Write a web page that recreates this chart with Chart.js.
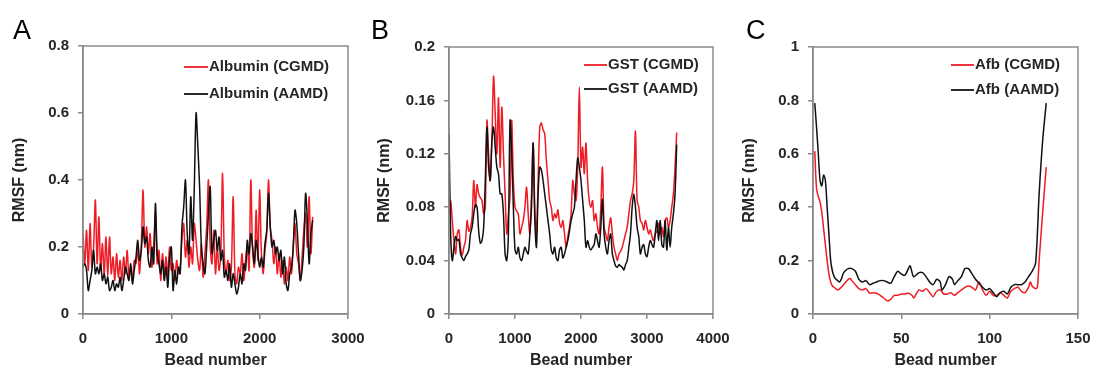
<!DOCTYPE html>
<html>
<head>
<meta charset="utf-8">
<script src="https://cdn.jsdelivr.net/npm/chart.js@4/dist/chart.umd.min.js"></script>
<style>
  html,body{margin:0;padding:0;background:#fff;}
  #wrap{position:relative;width:1094px;height:373px;overflow:hidden;}
  .panel{position:absolute;top:0;height:373px;}
  canvas{display:block;}
  .letter{position:absolute;font-family:"Liberation Sans",Arial,sans-serif;font-size:27px;color:#000;}
</style>
</head>
<body>
<div id="wrap">
  <div class="panel" style="left:0;width:365px;"><canvas id="cA" width="365" height="373"></canvas></div>
  <div class="panel" style="left:365px;width:365px;"><canvas id="cB" width="365" height="373"></canvas></div>
  <div class="panel" style="left:730px;width:364px;"><canvas id="cC" width="364" height="373"></canvas></div>
  <div class="letter" style="left:13px;top:15px;">A</div>
  <div class="letter" style="left:371px;top:15px;">B</div>
  <div class="letter" style="left:746px;top:15px;">C</div>
</div>
<script>
// ---------- Panel A: Albumin ----------
const beadsA = [];
for (let b = 0; b <= 2600; b += 20) beadsA.push(b);
const albuminCGMD = [
0.24,0.15,0.25,0.13,0.27,0.14,0.20,0.34,0.15,0.29,0.13,0.21,0.12,0.23,0.11,0.23,0.12,0.17,0.10,0.18,
0.11,0.16,0.10,0.17,0.12,0.19,0.11,0.14,0.10,0.16,0.15,0.20,0.12,0.21,0.37,0.20,0.26,0.18,0.24,0.14,
0.20,0.30,0.15,0.19,0.10,0.18,0.12,0.17,0.11,0.20,0.13,0.15,0.10,0.16,0.12,0.14,0.22,0.27,0.17,0.22,
0.14,0.20,0.15,0.27,0.22,0.16,0.13,0.21,0.11,0.18,0.26,0.40,0.20,0.15,0.25,0.12,0.20,0.13,0.18,0.42,
0.17,0.12,0.16,0.10,0.14,0.35,0.12,0.09,0.14,0.12,0.18,0.10,0.16,0.20,0.13,0.40,0.19,0.14,0.31,0.16,
0.37,0.18,0.12,0.19,0.24,0.40,0.26,0.22,0.15,0.20,0.12,0.18,0.11,0.16,0.09,0.14,0.10,0.17,0.12,0.20,
0.27,0.18,0.15,0.10,0.17,0.25,0.30,0.20,0.35,0.18,0.29];
const albuminAAMD = [
0.14,0.15,0.13,0.07,0.10,0.13,0.19,0.12,0.14,0.12,0.15,0.10,0.12,0.09,0.11,0.07,0.08,0.10,0.07,0.09,
0.08,0.11,0.07,0.10,0.14,0.12,0.10,0.15,0.09,0.13,0.17,0.22,0.16,0.19,0.26,0.21,0.23,0.16,0.14,0.20,
0.15,0.33,0.18,0.15,0.12,0.16,0.10,0.14,0.08,0.17,0.20,0.07,0.13,0.09,0.14,0.12,0.26,0.32,0.40,0.24,
0.18,0.35,0.22,0.38,0.60,0.50,0.38,0.20,0.15,0.12,0.20,0.30,0.38,0.18,0.22,0.25,0.19,0.23,0.16,0.19,
0.11,0.13,0.10,0.15,0.08,0.12,0.09,0.06,0.08,0.12,0.09,0.15,0.13,0.22,0.18,0.24,0.20,0.15,0.22,0.18,
0.14,0.17,0.14,0.21,0.25,0.36,0.26,0.20,0.22,0.18,0.20,0.16,0.19,0.12,0.17,0.09,0.07,0.12,0.14,0.20,
0.31,0.27,0.18,0.10,0.13,0.20,0.36,0.28,0.15,0.24,0.28];
const ticksA = {min:0, max:3000, step:1000, ymin:0, ymax:0.8, ystep:0.2};

// ---------- Panel B: GST ----------
const beadsB = [];
for (let b = 0; b <= 3450; b += 25) beadsB.push(b);
const gstCGMD = [
0.075,0.085,0.07,0.055,0.045,0.06,0.063,0.05,0.044,0.05,0.055,0.07,0.062,0.065,0.072,0.1,0.08,0.097,0.09,0.087,
0.085,0.075,0.08,0.145,0.12,0.1,0.13,0.178,0.15,0.12,0.162,0.11,0.155,0.12,0.09,0.06,0.075,0.088,0.145,0.1,
0.08,0.077,0.075,0.06,0.065,0.07,0.08,0.095,0.075,0.06,0.09,0.128,0.08,0.06,0.1,0.14,0.143,0.138,0.135,0.115,
0.1,0.085,0.08,0.07,0.075,0.072,0.078,0.068,0.065,0.07,0.06,0.05,0.058,0.065,0.075,0.1,0.09,0.085,0.11,0.17,
0.11,0.125,0.105,0.128,0.1,0.085,0.08,0.085,0.07,0.075,0.065,0.06,0.08,0.11,0.065,0.06,0.055,0.065,0.072,0.06,
0.05,0.045,0.04,0.045,0.047,0.05,0.055,0.06,0.065,0.075,0.085,0.09,0.1,0.137,0.085,0.08,0.07,0.068,0.063,0.07,
0.065,0.06,0.063,0.058,0.055,0.06,0.062,0.068,0.06,0.065,0.058,0.07,0.072,0.065,0.07,0.08,0.09,0.11,0.136];
const gstAAMD = [
0.135,0.06,0.04,0.05,0.058,0.055,0.056,0.045,0.042,0.04,0.043,0.045,0.048,0.06,0.065,0.075,0.082,0.08,0.062,0.053,
0.055,0.065,0.1,0.14,0.11,0.1,0.13,0.14,0.125,0.11,0.105,0.09,0.09,0.075,0.045,0.04,0.06,0.145,0.12,0.08,
0.048,0.045,0.05,0.042,0.04,0.045,0.05,0.047,0.045,0.06,0.08,0.128,0.07,0.05,0.09,0.11,0.108,0.1,0.09,0.08,
0.07,0.06,0.048,0.045,0.05,0.042,0.04,0.048,0.05,0.042,0.045,0.05,0.055,0.062,0.07,0.075,0.08,0.1,0.117,0.11,
0.1,0.085,0.07,0.05,0.055,0.05,0.048,0.05,0.052,0.06,0.055,0.05,0.065,0.086,0.06,0.05,0.045,0.055,0.06,0.045,
0.04,0.036,0.035,0.037,0.036,0.035,0.033,0.037,0.04,0.05,0.06,0.08,0.09,0.08,0.065,0.058,0.045,0.05,0.052,0.045,
0.043,0.05,0.055,0.052,0.05,0.06,0.07,0.055,0.07,0.052,0.05,0.07,0.048,0.065,0.05,0.065,0.075,0.09,0.127];
const ticksB = {min:0, max:4000, step:1000, ymin:0, ymax:0.2, ystep:0.04};

// ---------- Panel C: Afb ----------
const beadsC_CG = [1,2,3,4,5,6,7,8,9,10,11,12,14,16,18,20,21,22,24,26,28,30,32,34,36,38,40,42,44,46,48,50,52,54,56,57,58,60,62,64,66,68,70,72,74,76,78,80,82,84,86,88,90,92,94,96,98,100,102,104,106,108,110,112,114,116,118,120,122,123,124,126,127,128,130,132];
const afbCGMD = [0.61,0.47,0.44,0.42,0.38,0.32,0.26,0.20,0.15,0.12,0.105,0.10,0.09,0.10,0.115,0.13,0.133,0.125,0.11,0.095,0.09,0.095,0.078,0.08,0.078,0.07,0.06,0.05,0.055,0.07,0.07,0.075,0.075,0.078,0.07,0.06,0.07,0.09,0.085,0.095,0.08,0.065,0.085,0.09,0.075,0.075,0.08,0.07,0.08,0.09,0.10,0.105,0.10,0.09,0.12,0.09,0.07,0.085,0.07,0.07,0.08,0.07,0.06,0.085,0.095,0.10,0.085,0.08,0.10,0.12,0.105,0.095,0.10,0.20,0.38,0.55];
const beadsC_AA = [1,2,3,4,5,6,7,8,9,10,11,12,13,14,15,16,17,18,20,22,24,26,28,30,32,34,36,38,40,42,44,46,48,50,52,54,55,57,60,62,64,66,68,70,72,73,75,77,79,80,82,84,86,88,90,92,94,96,98,100,102,104,106,108,110,112,114,116,118,120,122,124,126,128,130,132];
const afbAAMD = [0.79,0.70,0.60,0.50,0.48,0.52,0.50,0.40,0.30,0.20,0.16,0.14,0.13,0.125,0.12,0.13,0.15,0.16,0.17,0.17,0.16,0.13,0.12,0.125,0.11,0.115,0.12,0.125,0.125,0.12,0.115,0.14,0.16,0.15,0.145,0.17,0.18,0.14,0.155,0.155,0.14,0.12,0.11,0.13,0.12,0.09,0.11,0.14,0.13,0.11,0.125,0.14,0.17,0.17,0.15,0.13,0.115,0.10,0.09,0.095,0.08,0.065,0.08,0.085,0.075,0.10,0.11,0.11,0.11,0.12,0.14,0.16,0.19,0.45,0.65,0.79];
const ticksC = {min:0, max:150, step:50, ymin:0, ymax:1, ystep:0.2};

const RED = '#ee1c25', BLACK = '#111111', AXIS = '#8a8a8a', TXT = '#262626';
const FONT = "'Liberation Sans', Arial, sans-serif";

function pts(xs, ys){ return ys.map((y,i)=>({x:xs[i], y:y})); }

function makeChart(id, cfg){
  const W = cfg.W;
  const frame = {
    id:'frame',
    afterDraw(chart){
      const {ctx, chartArea:a} = chart;
      ctx.save();
      ctx.strokeStyle = AXIS; ctx.lineWidth = 1.5;
      ctx.strokeRect(a.left, a.top, a.right-a.left, a.bottom-a.top);
      // legend
      ctx.font = "bold 15px " + FONT;
      ctx.textBaseline = 'middle';
      cfg.legend.forEach(l=>{
        ctx.strokeStyle = l.color; ctx.lineWidth = 1.8;
        ctx.beginPath(); ctx.moveTo(cfg.lx1, l.y); ctx.lineTo(cfg.lx2, l.y); ctx.stroke();
        ctx.fillStyle = TXT;
        ctx.fillText(l.text, cfg.lx2 + 1, l.y);
      });
      ctx.restore();
    }
  };
  return new Chart(document.getElementById(id), {
    type:'line',
    data:{datasets:[
      {label:cfg.legend[1].text, data:pts(cfg.xAA, cfg.yAA), borderColor:BLACK, borderWidth:1.5, pointRadius:0, tension:0.3, order:0},
      {label:cfg.legend[0].text, data:pts(cfg.xCG, cfg.yCG), borderColor:RED, borderWidth:1.5, pointRadius:0, tension:0.3, order:1}
    ]},
    options:{
      responsive:false, animation:false, devicePixelRatio:1,
      layout:{padding:{left:0, top:cfg.T, right:W-cfg.R, bottom:0}},
      plugins:{legend:{display:false}, tooltip:{enabled:false}},
      scales:{
        x:{type:'linear', min:cfg.t.min, max:cfg.t.max,
          afterFit(s){ s.height = 373 - cfg.B; s.paddingLeft = 0; s.paddingRight = 0; },
          ticks:{stepSize:cfg.t.step, color:TXT, font:{family:FONT, size:15, weight:'bold'}, padding:11, maxRotation:0,
            callback:(v)=> String(v)},
          grid:{drawOnChartArea:false, drawTicks:true, tickLength:5, color:AXIS, lineWidth:1.5},
          border:{display:true, color:AXIS, width:1.5},
          title:{display:true, text:'Bead number', color:TXT, font:{family:FONT, size:16, weight:'bold'}, padding:{top:0,bottom:3}}
        },
        y:{type:'linear', min:cfg.t.ymin, max:cfg.t.ymax,
          afterFit(s){ s.width = cfg.L; s.paddingTop = 0; s.paddingBottom = 0; },
          ticks:{stepSize:cfg.t.ystep, color:TXT, font:{family:FONT, size:15, weight:'bold'}, padding:9,
            callback:(v)=> Number(v.toFixed(2)).toString()},
          grid:{drawOnChartArea:false, drawTicks:true, tickLength:5, color:AXIS, lineWidth:1.5},
          border:{display:true, color:AXIS, width:1.5},
          title:{display:true, text:'RMSF (nm)', color:TXT, font:{family:FONT, size:16, weight:'bold'}, padding:{top:10,bottom:0}}
        }
      }
    },
    plugins:[frame]
  });
}

makeChart('cA', {W:365, L:83, R:348, T:46, B:314, t:ticksA,
  xCG:beadsA, yCG:albuminCGMD, xAA:beadsA, yAA:albuminAAMD,
  lx1:184, lx2:208, legend:[{text:'Albumin (CGMD)', color:RED, y:67},{text:'Albumin (AAMD)', color:BLACK, y:94}]});
makeChart('cB', {W:365, L:84, R:348, T:47, B:314, t:ticksB,
  xCG:beadsB, yCG:gstCGMD, xAA:beadsB, yAA:gstAAMD,
  lx1:219, lx2:242, legend:[{text:'GST (CGMD)', color:RED, y:65},{text:'GST (AAMD)', color:BLACK, y:89}]});
makeChart('cC', {W:364, L:83, R:348, T:47, B:314, t:ticksC,
  xCG:beadsC_CG, yCG:afbCGMD, xAA:beadsC_AA, yAA:afbAAMD,
  lx1:221, lx2:244, legend:[{text:'Afb (CGMD)', color:RED, y:65},{text:'Afb (AAMD)', color:BLACK, y:90}]});
</script>
</body>
</html>
